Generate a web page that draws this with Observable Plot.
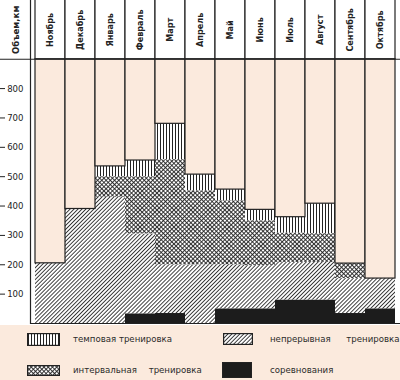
<!DOCTYPE html>
<html><head><meta charset="utf-8">
<script src="https://cdn.jsdelivr.net/npm/d3@7"></script>
<script src="https://cdn.jsdelivr.net/npm/@observablehq/plot@0.6"></script>
<style>
body{margin:0;background:#fbeadd;}
#legend{position:relative;width:400px;height:55px;background:#fbeadd;font-family:"DejaVu Sans",sans-serif;font-size:8.6px;color:#2a2a2a;}
#legend span{position:absolute;line-height:12px;white-space:nowrap;}
#legend svg{position:absolute;}
</style>
</head><body>
<svg width="0" height="0" style="position:absolute">
<defs>
<pattern id="tempo" patternUnits="userSpaceOnUse" width="3" height="3">
 <rect width="3" height="3" fill="#fff"/>
 <line x1="1.5" y1="0" x2="1.5" y2="3" stroke="#222" stroke-width="1"/>
</pattern>
<pattern id="cont" patternUnits="userSpaceOnUse" width="2.8" height="2.8" patternTransform="rotate(45)">
 <rect width="2.8" height="2.8" fill="#fff"/>
 <line x1="1.4" y1="0" x2="1.4" y2="2.8" stroke="#2a2a2a" stroke-width="0.9"/>
</pattern>
<pattern id="interval" patternUnits="userSpaceOnUse" width="3" height="3" patternTransform="rotate(45)">
 <rect width="3" height="3" fill="#fff"/>
 <line x1="1.5" y1="0" x2="1.5" y2="3" stroke="#222" stroke-width="0.9"/>
 <line x1="0" y1="1.5" x2="3" y2="1.5" stroke="#222" stroke-width="0.9"/>
</pattern>
</defs></svg>
<div id="chart"></div>
<div id="legend"></div>
<script>
const months = ["Ноябрь","Декабрь","Январь","Февраль","Март","Апрель","Май","Июнь","Июль","Август","Сентябрь","Октябрь"];
const competitions = [0,0,0,33,34,0,50,50,80,80,34,50];
const continuous  = [205,390,430,272,166,200,150,147,128,128,119,103];
const interval    = [0,0,70,195,358,252,218,153,100,98,51,0];
const tempo       = [0,0,35,55,122,55,38,37,54,102,0,0];
const yTicks = [100,200,300,400,500,600,700,800];
const seriesNames = ["соревнования","непрерывная тренировка","интервальная тренировка","темповая тренировка"];
const yLabel = "Объем,км";

const fills = {
  "соревнования": "#1c1c1c",
  "непрерывная тренировка": "url(#cont)",
  "интервальная тренировка": "url(#interval)",
  "темповая тренировка": "url(#tempo)"
};
const seriesValues = [competitions, continuous, interval, tempo];
const rows = [];
months.forEach((m, i) => seriesNames.forEach((s, j) => rows.push({month: m, series: s, value: seriesValues[j][i]})));
const totals = months.map((m, i) => d3.sum(seriesValues, v => v[i]));

const peach = "#fbeadd";
const ink = "#222";
const font = "'DejaVu Sans Condensed','Liberation Sans Narrow',sans-serif";

const chart = Plot.plot({
  width: 400, height: 325,
  marginLeft: 30, marginRight: 0, marginTop: 0, marginBottom: 2,
  style: {background: "#fff", fontFamily: font, color: ink, overflow: "visible"},
  x: {domain: months, padding: 0, axis: null},
  y: {domain: [0, 1100]},
  color: {type: "identity"},
  marks: [
    Plot.barY(rows, {x: "month", y: "value", fill: d => fills[d.series]}),
    Plot.barY(months, {x: d => d, y1: (d, i) => totals[i], y2: 900, fill: peach, stroke: ink, strokeWidth: 1.2}),
    Plot.barY(months, {x: d => d, y1: 900, y2: 1130, fill: "#fff", stroke: ink, strokeWidth: 1.2}),
    Plot.text(months, {x: d => d, y: 1000, text: d => d, rotate: -90, fontSize: 9, fontWeight: 600, fill: ink}),
    Plot.ruleY([900], {insetLeft: -30, stroke: ink, strokeWidth: 1.2}),
    Plot.ruleY([0], {stroke: ink, strokeWidth: 1.2}),
    Plot.frame({anchor: "left", stroke: ink, strokeWidth: 1.2}),
    Plot.axisY({ticks: yTicks, tickSize: 0, tickPadding: 7, fontSize: 9.5, label: null}),
    Plot.axisY({ticks: yTicks, tickSize: 5, tickFormat: () => "", dx: -25, label: null}),
    Plot.text([yLabel], {frameAnchor: "left", y: 1000, dx: -15, rotate: -90, textAnchor: "middle", fontSize: 9.5, fontWeight: 600, fill: ink})
  ]
});
document.getElementById("chart").appendChild(chart);

// legend
const legend = document.getElementById("legend");
const items = [
  {name: "темповая тренировка", sx: 27, sy: 8, sw: 33, sh: 13, tx: 73, ty: 8, ws: 0},
  {name: "непрерывная тренировка", sx: 223, sy: 8, sw: 30, sh: 12, tx: 270, ty: 8, ws: 13},
  {name: "интервальная тренировка", sx: 27, sy: 40, sw: 33, sh: 11, tx: 73, ty: 39, ws: 9},
  {name: "соревнования", sx: 222, sy: 37, sw: 30, sh: 16, tx: 270, ty: 39, ws: 0}
];
items.forEach(it => {
  const s = document.createElementNS("http://www.w3.org/2000/svg", "svg");
  s.setAttribute("width", it.sw); s.setAttribute("height", it.sh);
  s.style.left = it.sx + "px"; s.style.top = it.sy + "px";
  const r = document.createElementNS("http://www.w3.org/2000/svg", "rect");
  r.setAttribute("x", 0.6); r.setAttribute("y", 0.6);
  r.setAttribute("width", it.sw - 1.2); r.setAttribute("height", it.sh - 1.2);
  r.setAttribute("fill", fills[it.name]); r.setAttribute("stroke", ink); r.setAttribute("stroke-width", 1.2);
  s.appendChild(r);
  legend.appendChild(s);
  const t = document.createElement("span");
  t.textContent = it.name;
  t.style.left = it.tx + "px"; t.style.top = it.ty + "px"; t.style.wordSpacing = it.ws + "px";
  legend.appendChild(t);
});
</script>
</body></html>
